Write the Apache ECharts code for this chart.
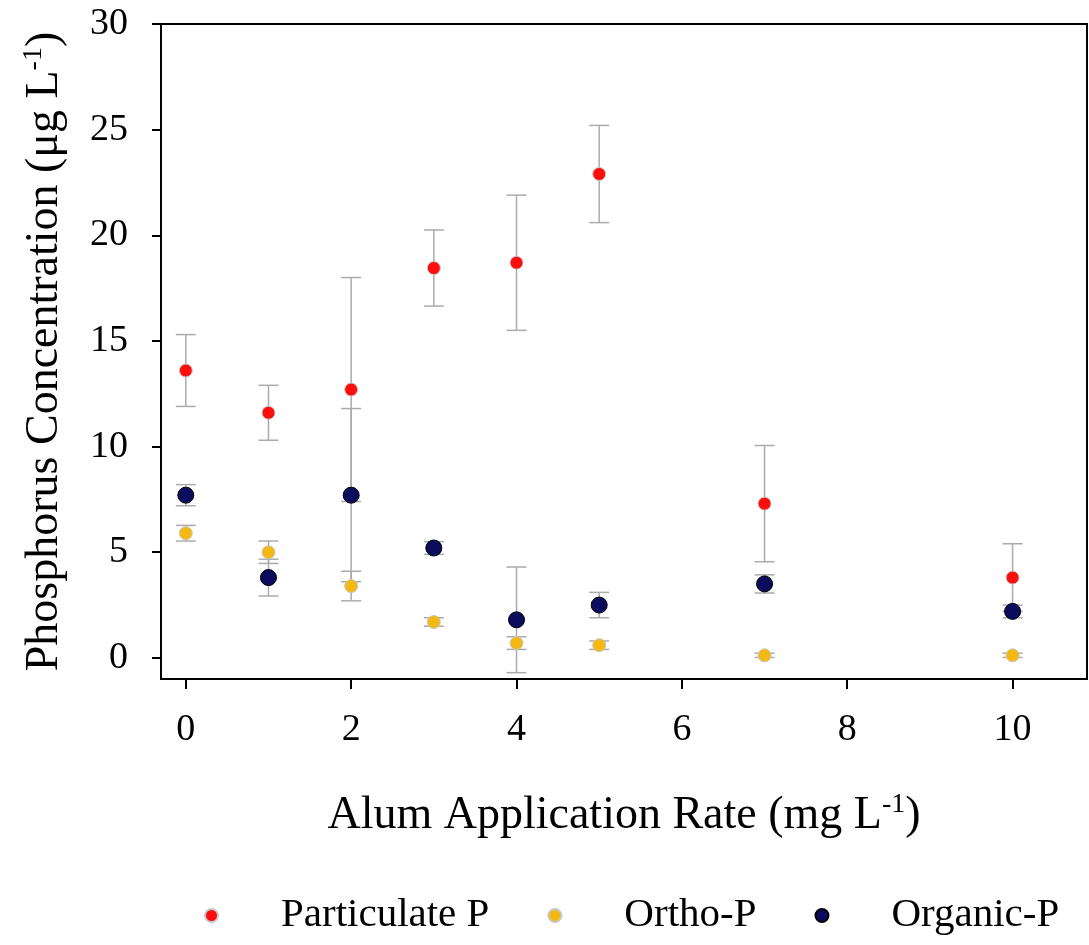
<!DOCTYPE html>
<html>
<head>
<meta charset="utf-8">
<script src="https://cdn.jsdelivr.net/npm/echarts@6/dist/echarts.min.js"></script>
<style>
	html, body {
		margin: 0;
		padding: 0;
		background: #fff;
	}

	#main {
		width: 1089px;
		height: 945px;
	}
</style>
</head>
<body>
<div id="main"></div>
<script>
	// alum rate (mg/L)
	var alumRate = [0, 1, 2, 3, 4, 5, 7, 10];

	// particulate P mean and +/- error
	var partMean = [13.6, 11.6, 12.7, 18.45, 18.7, 22.9, 7.3, 3.8];
	var partErr = [1.7, 1.3, 5.3, 1.8, 3.2, 2.3, 2.75, 1.6];

	// ortho-P
	var orthoMean = [5.9, 5.0, 3.4, 1.7, 0.7, 0.6, 0.12, 0.12];
	var orthoErr = [0.37, 0.53, 0.7, 0.2, 0.3, 0.2, 0.1, 0.1];

	// organic-P
	var orgMean = [7.7, 3.8, 7.7, 5.2, 1.8, 2.5, 3.5, 2.2];
	var orgErr = [0.5, 0.87, 4.1, 0.3, 2.5, 0.6, 0.43, 0.3];

	var yTicks = [0, 5, 10, 15, 20, 25, 30];
	var xTicks = [0, 2, 4, 6, 8, 10];

	var serif = '"Liberation Serif", "Times New Roman", serif';

	function points(means) {
		return alumRate.map(function (x, i) { return [x, means[i]]; });
	}

	function errData(means, errs) {
		return alumRate.map(function (x, i) { return [x, means[i] - errs[i], means[i] + errs[i]]; });
	}

	// error bar drawn through the axes
	function renderErr(params, api) {
		var lo = api.coord([api.value(0), api.value(1)]);
		var hi = api.coord([api.value(0), api.value(2)]);
		var half = 10;
		var st = { stroke: '#ababab', lineWidth: 1.5 };
		return {
			type: 'group',
			children: [
				{ type: 'line', shape: { x1: hi[0], y1: hi[1], x2: lo[0], y2: lo[1] }, style: st },
				{ type: 'line', shape: { x1: hi[0] - half, y1: hi[1], x2: hi[0] + half, y2: hi[1] }, style: st },
				{ type: 'line', shape: { x1: lo[0] - half, y1: lo[1], x2: lo[0] + half, y2: lo[1] }, style: st }
			]
		};
	}

	var titleRich = {
		a: { fontFamily: serif, fontSize: 46, color: '#000', lineHeight: 50 },
		s: { fontFamily: serif, fontSize: 28, color: '#000', lineHeight: 28, verticalAlign: 'top' }
	};

	var myChart = echarts.init(document.getElementById('main'));

	var option = {
		backgroundColor: '#fff',
		animation: false,
		grid: {
			left: 161,
			top: 24,
			right: 2,
			bottom: 266,
			show: true,
			borderColor: '#000',
			borderWidth: 2
		},
		legend: {
			bottom: 4,
			left: 199,
			icon: 'circle',
			itemWidth: 13,
			itemHeight: 13,
			itemGap: 58,
			data: ['Particulate P', 'Ortho-P', 'Organic-P'],
			textStyle: {
				fontFamily: serif,
				fontSize: 41,
				color: '#000',
				padding: [0, 0, 0, 58]
			}
		},
		xAxis: {
			type: 'value',
			min: -0.3,
			max: 10.9,
			interval: 2,
			name: '{a|Alum Application Rate (mg L}{s|-1}{a|)}',
			nameLocation: 'middle',
			nameGap: 112,
			nameTextStyle: { rich: titleRich },
			splitLine: { show: false },
			axisLine: { onZero: false, lineStyle: { color: '#000', width: 2 } },
			axisTick: {
				length: 10,
				lineStyle: { color: '#000', width: 2 },
				customValues: xTicks
			},
			axisLabel: {
				fontFamily: serif,
				fontSize: 38,
				color: '#000',
				margin: 32,
				customValues: xTicks
			}
		},
		yAxis: {
			type: 'value',
			min: -1,
			max: 30,
			name: '{a|Phosphorus Concentration (μg L}{s|-1}{a|)}',
			nameLocation: 'middle',
			nameGap: 91,
			nameTextStyle: { rich: titleRich },
			splitLine: { show: false },
			axisLine: { onZero: false, lineStyle: { color: '#000', width: 2 } },
			axisTick: {
				length: 9,
				lineStyle: { color: '#000', width: 2 },
				customValues: yTicks
			},
			axisLabel: {
				fontFamily: serif,
				fontSize: 38,
				color: '#000',
				margin: 33,
				customValues: yTicks
			}
		},
		series: [
			{
				type: 'custom',
				renderItem: renderErr,
				data: errData(partMean, partErr),
				encode: { x: 0, y: [1, 2] },
				z: 1,
				silent: true
			},
			{
				type: 'custom',
				renderItem: renderErr,
				data: errData(orthoMean, orthoErr),
				encode: { x: 0, y: [1, 2] },
				z: 1,
				silent: true
			},
			{
				type: 'custom',
				renderItem: renderErr,
				data: errData(orgMean, orgErr),
				encode: { x: 0, y: [1, 2] },
				z: 1,
				silent: true
			},
			{
				name: 'Particulate P',
				type: 'scatter',
				symbolSize: 13,
				data: points(partMean),
				itemStyle: { color: '#ff0d0d', borderColor: '#c8c8c8', borderWidth: 1, opacity: 1 },
				z: 3
			},
			{
				name: 'Ortho-P',
				type: 'scatter',
				symbolSize: 13,
				data: points(orthoMean),
				itemStyle: { color: '#f4b812', borderColor: '#c8c8c8', borderWidth: 1, opacity: 1 },
				z: 3
			},
			{
				name: 'Organic-P',
				type: 'scatter',
				symbolSize: 16,
				data: points(orgMean),
				itemStyle: { color: '#0c0c5e', borderColor: '#000', borderWidth: 1, opacity: 1 },
				z: 3
			}
		]
	};

	myChart.setOption(option);
</script>
</body>
</html>
